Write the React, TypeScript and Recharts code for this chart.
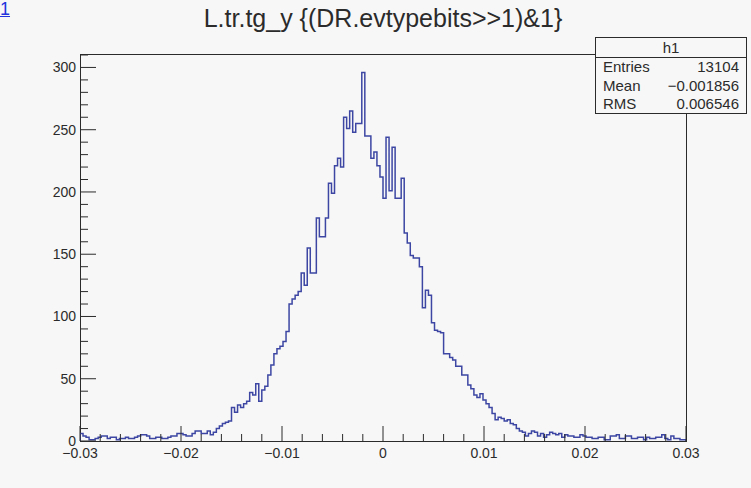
import { Line, LineChart, XAxis, YAxis } from "recharts";

const W = 751;
const H = 488;

// histogram h1: 200 bins over [-0.03, 0.03]
const X_MIN = -0.03;
const X_MAX = 0.03;
const Y_MAX = 310.8;

const leftTail = [6, 4, 3, 1, 1, 2, 3, 4, 4, 2, 3, 3, 1, 2, 2, 3, 2, 2, 3, 4, 5, 5, 4, 2, 2, 3, 3, 2, 2, 3, 4, 4, 6];
const rising = [
  6, 5, 4, 4, 6, 8, 8, 6, 6, 8, 5, 7, 10, 12, 14, 15, 16, 27, 23, 29, 27, 30, 32, 39, 37, 46, 32, 41, 44, 53, 61, 70,
  74, 76, 80, 88, 110, 114, 117, 120, 135,
];
const peak = [
  125, 155, 135, 135, 179, 164, 164, 179, 207, 199, 221, 227, 220, 260, 251, 265, 248, 255, 255, 296, 245, 245, 227,
  232, 221, 212, 195, 244, 201, 236, 195, 195, 211, 167, 159, 149, 147, 147, 140, 107, 121, 117, 95,
];
const falling = [
  89, 88, 87, 70, 70, 67, 65, 60, 60, 53, 53, 45, 42, 37, 35, 38, 33, 30, 27, 22, 17, 19, 18, 16, 17, 14, 13, 10, 8, 7,
  4, 6, 8, 7, 4, 6, 3, 5, 7, 6, 5, 6, 3, 5,
];
const rightTail = [
  4, 4, 3, 3, 5, 4, 3, 3, 2, 2, 3, 3, 1, 1, 4, 4, 5, 2, 2, 4, 4, 2, 2, 3, 3, 1, 3, 2, 2, 3, 3, 5, 2, 1, 4, 2, 2, 1, 1,
];

const xMajor = [-0.03, -0.02, -0.01, 0, 0.01, 0.02, 0.03];
const yMajor = [0, 50, 100, 150, 200, 250, 300];

const statsRows = [
  ["Entries", "13104"],
  ["Mean", "\u22120.001856"],
  ["RMS", "0.006546"],
];

const TITLE = "L.tr.tg_y {(DR.evtypebits>>1)&1}";

const counts = [...leftTail, ...rising, ...peak, ...falling, ...rightTail];
const binW = (X_MAX - X_MIN) / counts.length;

// outline like ROOT "HIST": drop to zero at both edges
const data = [
  { x: X_MIN, y: 0 },
  ...counts.map((c, i) => ({ x: X_MIN + i * binW, y: c })),
  { x: X_MAX, y: counts[counts.length - 1] },
  { x: X_MAX, y: 0 },
];

const xTicks = Array.from({ length: 31 }, (_, i) => Number((X_MIN + i * 0.002).toFixed(4)));
const yTicks = Array.from({ length: 32 }, (_, i) => i * 10);

const INK = "#2b2b2b";
const BG = "#f7f7f7";
const FONT = "'Liberation Sans', Arial, Helvetica, sans-serif";
const PLOT = { left: 80, top: 54, right: 686, bottom: 441 };
const Y_AXIS_W = 40;
const X_AXIS_H = 30;

const fmtX = (v: number) => (v === 0 ? "0" : (v < 0 ? "\u2212" : "") + Math.abs(v).toFixed(2));

function XTick(props: any) {
  const { x, payload } = props;
  const v = payload.value as number;
  const major = xMajor.some((m) => Math.abs(m - v) < 1e-9);
  const y = PLOT.bottom;
  return (
    <g>
      <line x1={x} x2={x} y1={y} y2={y - (major ? 15 : 7)} stroke={INK} strokeWidth={1} />
      {major ? (
        <text x={x} y={y + 17} textAnchor="middle" fontSize={14} fill={INK} fontFamily={FONT}>
          {fmtX(v)}
        </text>
      ) : null}
    </g>
  );
}

function YTick(props: any) {
  const { y, payload } = props;
  const v = payload.value as number;
  const major = yMajor.includes(v);
  const x = PLOT.left;
  return (
    <g>
      <line x1={x} x2={x + (major ? 16 : 8)} y1={y} y2={y} stroke={INK} strokeWidth={1} />
      {major ? (
        <text x={x - 4} y={y + 5} textAnchor="end" fontSize={14} fill={INK} fontFamily={FONT}>
          {v}
        </text>
      ) : null}
    </g>
  );
}

export default function App() {
  return (
    <div style={{ position: "absolute", left: 0, top: 0, width: W, height: H, background: BG, fontFamily: FONT, overflow: "hidden" }}>
      <span style={{ position: "absolute", left: 0, top: -2, color: "#2233dd", fontSize: 18, lineHeight: "22px", textDecoration: "underline" }}>
        1
      </span>
      <div style={{ position: "absolute", left: 0, top: 4, width: PLOT.left + PLOT.right, textAlign: "center", fontSize: 25, color: INK }}>
        {TITLE}
      </div>
      <div
        style={{
          position: "absolute",
          left: PLOT.left,
          top: PLOT.top,
          width: PLOT.right - PLOT.left + 1,
          height: PLOT.bottom - PLOT.top + 1,
          border: `1px solid ${INK}`,
          boxSizing: "border-box",
        }}
      />
      <LineChart
        width={W}
        height={H}
        data={data}
        margin={{ top: PLOT.top, right: W - PLOT.right, bottom: H - PLOT.bottom - X_AXIS_H, left: PLOT.left - Y_AXIS_W }}
        style={{ position: "absolute", left: 0, top: 0 }}
      >
        <XAxis
          dataKey="x"
          type="number"
          domain={[X_MIN, X_MAX]}
          ticks={xTicks}
          interval={0}
          height={X_AXIS_H}
          tickLine={false}
          axisLine={false}
          tick={XTick}
          allowDataOverflow
        />
        <YAxis
          type="number"
          domain={[0, Y_MAX]}
          ticks={yTicks}
          interval={0}
          width={Y_AXIS_W}
          tickLine={false}
          axisLine={false}
          tick={YTick}
          allowDataOverflow
        />
        <Line
          type="stepAfter"
          dataKey="y"
          stroke="#3d47a3"
          strokeWidth={1.5}
          dot={false}
          isAnimationActive={false}
        />
      </LineChart>
      <div
        style={{
          position: "absolute",
          left: 595,
          top: 37,
          width: 152,
          height: 77,
          background: BG,
          border: `1px solid ${INK}`,
          boxSizing: "border-box",
          fontSize: 15,
          color: INK,
        }}
      >
        <div style={{ height: 19, lineHeight: "19px", textAlign: "center", borderBottom: `1px solid ${INK}` }}>h1</div>
        {statsRows.map(([k, v]) => (
          <div key={k} style={{ display: "flex", justifyContent: "space-between", height: 18.5, lineHeight: "18.5px", padding: "0 7px 0 7px" }}>
            <span>{k}</span>
            <span>{v}</span>
          </div>
        ))}
      </div>
    </div>
  );
}
